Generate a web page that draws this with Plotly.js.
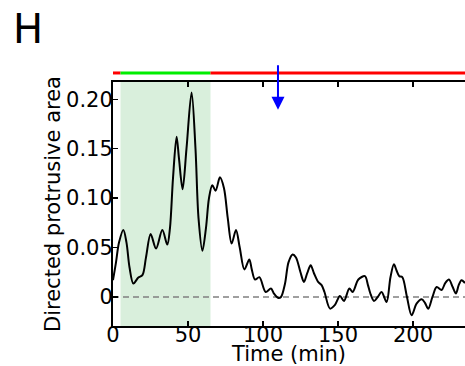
<!DOCTYPE html>
<html>
<head>
<meta charset="utf-8">
<script src="https://cdn.plot.ly/plotly-3.0.1.min.js"></script>
<style>html,body{margin:0;padding:0;background:#fff;}#chart{width:465px;height:366px;}</style>
</head>
<body>
<div id="chart"></div>
<script>
// Time (min) and directed protrusive area
const timeMin = [0, 2, 4, 6.9, 9, 11, 13.6, 16.9, 19.6, 22, 25.1, 28.7, 32.9, 36.2, 38, 40, 42.4, 44, 46.4, 49, 52.4, 55, 57, 59.6, 62, 64, 66.2, 68.4, 71.3, 74, 76.5, 79.1, 82, 84.5, 87.6, 90.9, 92.5, 94.7, 97.6, 101.8, 105.3, 107.5, 110.2, 112, 114.7, 117, 119.8, 122, 125, 127.3, 129.5, 131.8, 134, 136.9, 139.1, 141, 144.7, 148, 151.3, 154, 157.6, 159.8, 163.6, 168, 170, 171.5, 174, 176.5, 179.1, 182.4, 185, 187.3, 189, 190.9, 192.9, 196, 199.1, 202.4, 205.8, 208, 210.2, 213, 215.8, 219.1, 221.5, 224, 226.5, 228.7, 230.5, 232.4, 234.7];
const area = [0.017, 0.035, 0.055, 0.0677, 0.055, 0.03, 0.0136, 0.0197, 0.022, 0.04, 0.0636, 0.049, 0.0677, 0.053, 0.07, 0.12, 0.162, 0.14, 0.109, 0.15, 0.207, 0.15, 0.08, 0.0467, 0.07, 0.1, 0.113, 0.1075, 0.121, 0.11, 0.08, 0.054, 0.0677, 0.05, 0.0278, 0.038, 0.028, 0.0176, 0.020, 0.005, 0.0085, 0.003, -0.001, 0.0, 0.0136, 0.035, 0.043, 0.04, 0.025, 0.0152, 0.024, 0.032, 0.024, 0.015, 0.012, 0.005, -0.0118, -0.008, 0.001, -0.004, 0.0085, 0.005, 0.0176, 0.021, 0.012, 0.004, -0.004, 0.0, 0.005, -0.005, 0.02, 0.033, 0.027, 0.021, 0.020, 0.0, -0.0186, -0.0068, -0.0023, -0.006, -0.012, 0.0, 0.010, 0.007, 0.014, 0.0176, 0.01, 0.0035, 0.012, 0.017, 0.014];

// Phase bar above the plot: boundaries (min) and colours
const phaseStart = [0, 5, 65];
const phaseEnd = [5, 65, 234.7];
const phaseColor = ['#ff0000', '#00ee00', '#ff0000'];
// Shaded window (min)
const shadeRange = [5, 65];
// Event arrow (min)
const eventTime = 110;

const xTickVals = [0, 50, 100, 150, 200];
const xTickText = ['0', '50', '100', '150', '200'];
const yTickVals = [0, 0.05, 0.10, 0.15, 0.20];
const yTickText = ['0', '0.05', '0.10', '0.15', '0.20'];

const FONT = 'DejaVu Sans, sans-serif';
const FS = 21;

const shapes = [
  {type: 'rect', xref: 'x', yref: 'paper', x0: shadeRange[0], x1: shadeRange[1], y0: 0, y1: 1,
   fillcolor: '#d9efdc', line: {width: 0}, layer: 'below'},
  {type: 'line', xref: 'paper', yref: 'y', x0: 0, x1: 1, y0: 0, y1: 0,
   line: {color: '#808080', width: 1.5, dash: '6px,4px'}, layer: 'below'}
];
for (let i = 0; i < phaseStart.length; i++) {
  shapes.push({type: 'line', xref: 'x', yref: 'paper', x0: phaseStart[i], x1: phaseEnd[i],
    y0: 1.037, y1: 1.037, line: {color: phaseColor[i], width: 3}});
}

const data = [{
  x: timeMin, y: area, type: 'scatter', mode: 'lines',
  line: {color: '#000000', width: 2, shape: 'spline', smoothing: 0.9},
  hoverinfo: 'skip', showlegend: false
}];

const layout = {
  width: 465, height: 366,
  margin: {l: 113, r: 0, t: 82, b: 40},
  paper_bgcolor: '#ffffff', plot_bgcolor: 'rgba(0,0,0,0)',
  font: {family: FONT, size: FS, color: '#000'},
  showlegend: false,
  title: {text: 'H', font: {family: FONT, size: 40, color: '#000'},
          xref: 'container', yref: 'container', x: 0.028, xanchor: 'left', y: 0.92, yanchor: 'middle'},
  xaxis: {
    range: [0, 234.7], showgrid: false, zeroline: false,
    showline: true, linecolor: '#000', linewidth: 2, mirror: 'allticks',
    ticks: 'inside', ticklen: 5, tickwidth: 1.5, tickcolor: '#000',
    tickvals: xTickVals, ticktext: xTickText, ticklabelstandoff: -11,
    tickfont: {family: FONT, size: FS, color: '#000'},
    title: {text: 'Time (min)', font: {family: FONT, size: FS, color: '#000'}, standoff: 2}
  },
  yaxis: {
    range: [-0.0294, 0.2175], showgrid: false, zeroline: false,
    showline: true, linecolor: '#000', linewidth: 2, mirror: false,
    ticks: 'inside', ticklen: 5, tickwidth: 1.5, tickcolor: '#000',
    tickvals: yTickVals, ticktext: yTickText, ticklabelstandoff: -6,
    tickfont: {family: FONT, size: FS, color: '#000'},
    title: {text: 'Directed protrusive area', font: {family: FONT, size: FS, color: '#000'}, standoff: 0}
  },
  shapes: shapes,
  annotations: [{
    x: eventTime, y: 0.1893, xref: 'x', yref: 'y', ax: 0, ay: -46,
    showarrow: true, arrowhead: 2, arrowsize: 1.3, arrowwidth: 2, arrowcolor: '#0000ff', text: ''
  }]
};

Plotly.newPlot('chart', data, layout, {displayModeBar: false, staticPlot: true});
</script>
</body>
</html>
